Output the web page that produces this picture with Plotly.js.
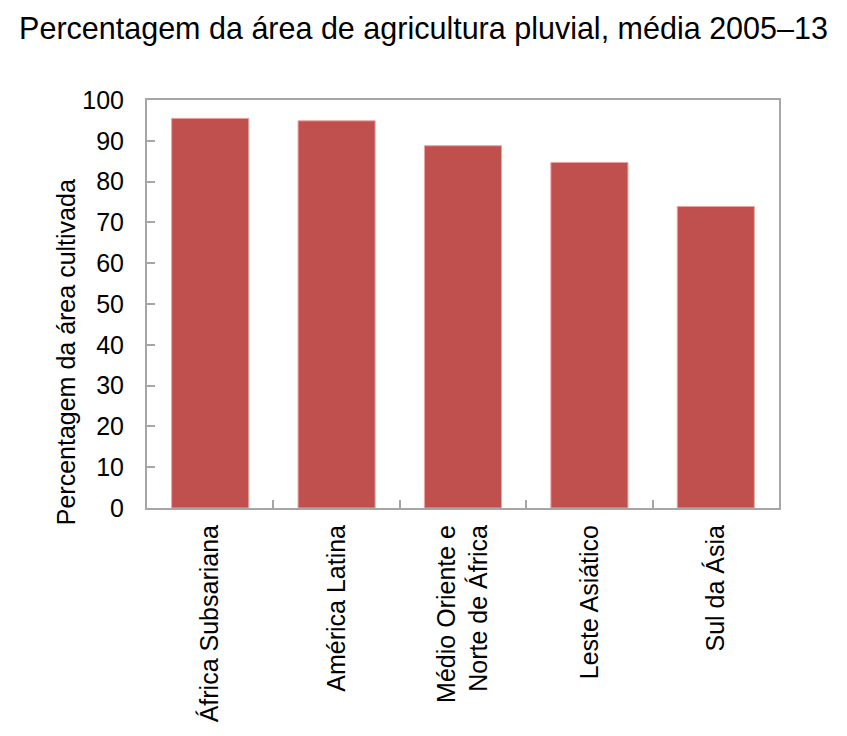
<!DOCTYPE html>
<html>
<head>
<meta charset="utf-8">
<script src="https://cdn.plot.ly/plotly-3.0.1.min.js"></script>
<style>html,body{margin:0;padding:0;background:#fff;}#chart{width:847px;height:736px;}</style>
</head>
<body>
<div id="chart"></div>
<script>
const categories = ["África Subsariana", "América Latina", "Médio Oriente e<br>Norte de África", "Leste Asiático", "Sul da Ásia"];
const values = [95.5, 94.9, 88.8, 84.7, 73.9];
const yTicks = [0, 10, 20, 30, 40, 50, 60, 70, 80, 90, 100];
const titleText = "Percentagem da área de agricultura pluvial, média 2005–13";
const yTitle = "Percentagem da área cultivada";

const fontFam = "'Liberation Sans Narrow', 'Liberation Sans', Arial, sans-serif";

Plotly.newPlot('chart', [{
  type: 'bar',
  x: categories,
  y: values,
  marker: {color: '#c0504d', line: {color: '#e8a5a3', width: 1}},
  width: 0.61
}], {
  width: 847, height: 736,
  margin: {l: 147, r: 68, t: 100, b: 228},
  paper_bgcolor: '#fff', plot_bgcolor: '#fff',
  font: {family: fontFam, size: 25, color: '#000'},
  title: {text: titleText, x: 0.5, xanchor: 'center', y: 0.962, yanchor: 'middle', font: {family: fontFam, size: 30.5, color: '#000'}},
  showlegend: false,
  xaxis: {
    type: 'category', tickangle: -90, tickson: 'boundaries',
    ticks: 'inside', ticklen: 8, tickcolor: '#a6a6a6', tickwidth: 2,
    showline: true, linecolor: '#a6a6a6', linewidth: 2, mirror: true,
    showgrid: false, tickfont: {family: fontFam, size: 25, color: '#000'},
    ticklabelstandoff: 5
  },
  yaxis: {
    range: [0, 100], tickvals: yTicks, ticktext: yTicks.map(String),
    ticks: 'inside', ticklen: 8, tickcolor: '#a6a6a6', tickwidth: 2,
    showline: true, linecolor: '#a6a6a6', linewidth: 2, mirror: true,
    showgrid: false, zeroline: false,
    tickfont: {family: fontFam, size: 25, color: '#000'},
    ticklabelstandoff: 16
  },
  annotations: [{
    text: yTitle, textangle: -90, showarrow: false,
    xref: 'paper', yref: 'paper', x: -0.128, y: 0.382,
    xanchor: 'center', yanchor: 'middle',
    font: {family: fontFam, size: 25, color: '#000'}
  }],
  bargap: 0.39
}, {displayModeBar: false, staticPlot: true});
</script>
</body>
</html>
